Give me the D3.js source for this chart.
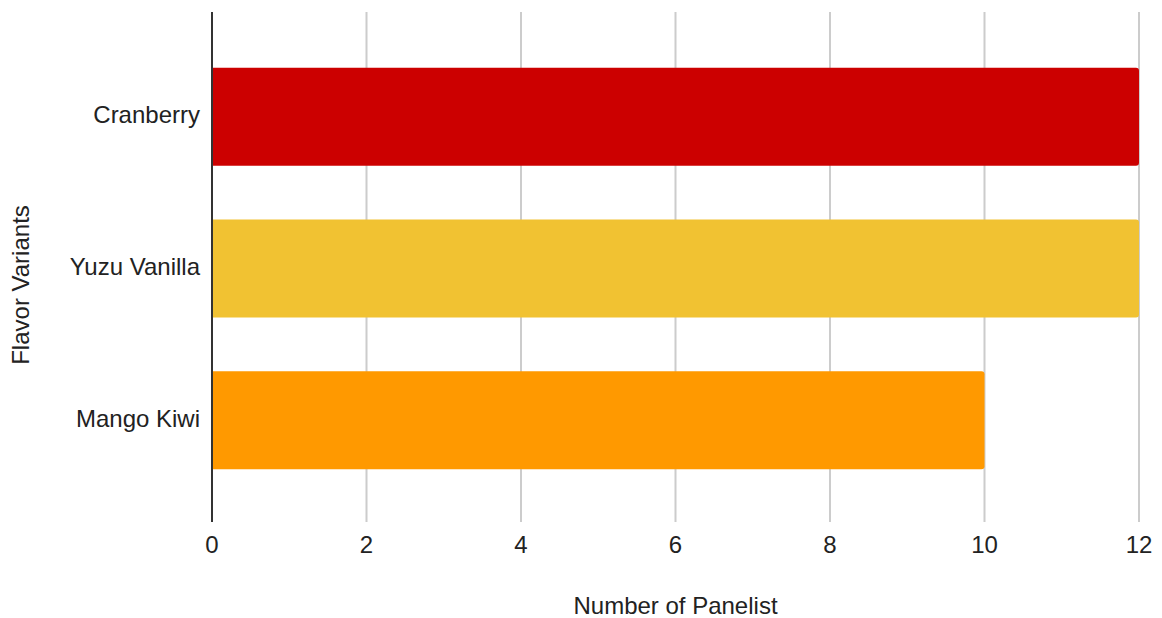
<!DOCTYPE html>
<html>
<head>
<meta charset="utf-8">
<script src="https://cdn.jsdelivr.net/npm/d3@7"></script>
<style>
  body { margin: 0; background: #fff; }
  svg { display: block; font-family: "Liberation Sans", Arial, sans-serif; }
</style>
</head>
<body>
<div class="chart"></div>
<script>
const categories = ['Cranberry', 'Yuzu Vanilla', 'Mango Kiwi'];
const values = [12, 12, 10];
const colors = ['#cc0000', '#f1c232', '#ff9900'];
const xTicks = [0, 2, 4, 6, 8, 10, 12];

const width = 1162;
const height = 618;
const plotLeft = 212;
const plotRight = 1139;
const plotTop = 12;
const plotBottom = 522;
const fontSize = '24px';

const svg = d3.select('.chart')
    .append('svg')
    .attr('width', width)
    .attr('height', height);

const x = d3.scaleLinear()
    .domain([0, 12])
    .range([plotLeft, plotRight]);

const y = d3.scaleBand()
    .domain(categories)
    .range([41, 496])
    .paddingInner(0.354)
    .paddingOuter(0.177);

// gridlines
svg.append('g')
    .selectAll('line')
    .data(xTicks.filter(d => d !== 0))
    .enter()
    .append('line')
    .attr('x1', d => x(d))
    .attr('x2', d => x(d))
    .attr('y1', plotTop)
    .attr('y2', plotBottom)
    .attr('stroke', '#cccccc')
    .attr('stroke-width', 2);

// bars with rounded right end
const r = 3;
svg.append('g')
    .selectAll('path')
    .data(categories)
    .enter()
    .append('path')
    .attr('fill', (d, i) => colors[i])
    .attr('d', (d, i) => {
        const x0 = x(0);
        const x1 = x(values[i]);
        const y0 = y(d);
        const h = y.bandwidth();
        return `M${x0},${y0}H${x1 - r}Q${x1},${y0} ${x1},${y0 + r}` +
            `V${y0 + h - r}Q${x1},${y0 + h} ${x1 - r},${y0 + h}H${x0}Z`;
    });

// baseline
svg.append('line')
    .attr('x1', x(0))
    .attr('x2', x(0))
    .attr('y1', plotTop)
    .attr('y2', plotBottom)
    .attr('stroke', '#333333')
    .attr('stroke-width', 2);

// x tick labels
svg.append('g')
    .selectAll('text')
    .data(xTicks)
    .enter()
    .append('text')
    .attr('x', d => x(d))
    .attr('y', 553)
    .attr('text-anchor', 'middle')
    .attr('fill', '#222')
    .style('font-size', fontSize)
    .text(d => d);

// category labels
svg.append('g')
    .selectAll('text')
    .data(categories)
    .enter()
    .append('text')
    .attr('x', 200)
    .attr('y', d => y(d) + y.bandwidth() / 2 - 2)
    .attr('dy', '0.35em')
    .attr('text-anchor', 'end')
    .attr('fill', '#222')
    .style('font-size', fontSize)
    .text(d => d);

// axis titles
svg.append('text')
    .attr('x', (plotLeft + plotRight) / 2)
    .attr('y', 614)
    .attr('text-anchor', 'middle')
    .attr('fill', '#222')
    .style('font-size', fontSize)
    .text('Number of Panelist');

svg.append('text')
    .attr('transform', 'translate(29,285) rotate(-90)')
    .attr('text-anchor', 'middle')
    .attr('fill', '#222')
    .style('font-size', fontSize)
    .text('Flavor Variants');
</script>
</body>
</html>
